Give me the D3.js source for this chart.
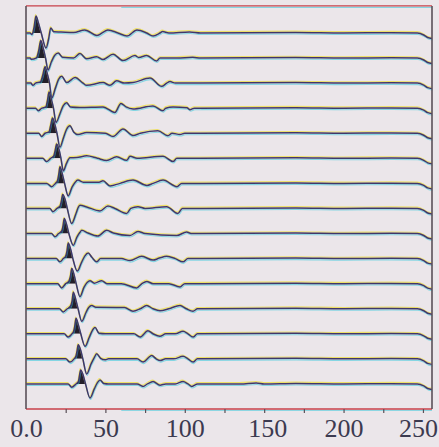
<!DOCTYPE html>
<html><head><meta charset="utf-8">
<script src="https://cdn.jsdelivr.net/npm/d3@7/dist/d3.min.js"></script>
<style>html,body{margin:0;padding:0;background:#ebe6ea;}svg{display:block;}</style>
</head><body>
<script>
// Tick labels of the x axis
const xTickValues = [0, 50, 100, 150, 200, 250];
const xTickLabels = ["0.0", "50", "100", "150", "200", "250"];
const xMinorTicks = [25, 50, 75, 100, 125, 150, 175, 200, 225, 250];

// Shared flat tail of every trace (time, amplitude in trace-spacing units)
const tail = [[170,0.02],[200,0],[230,0.01],[246.5,0],[250.5,-0.08],[253,-0.18],[255.7,-0.22]];

// Wiggle traces, top to bottom: [time, amplitude]
const trace1 = [[0,0],[2.5,0],[3.8,-0.06],[5,0.2],[6.3,0.68],[7.6,0.45],[9.6,0],[12.6,-0.6],[14.2,-0.25],[15.6,0.2],[17.5,0.05],[22,0.04],[30,0.02],[37,0.12],[44.7,-0.1],[51.6,0.12],[57.9,0],[63.6,-0.12],[69.9,0.12],[76,0],[80,-0.12],[84.4,0],[86,0.06],[90,0],[103,0.04],[110,0]];
const trace2 = [[0,0],[2.5,0],[3.5,-0.05],[6.5,0],[8,0.3],[9.3,0.7],[10.8,0.4],[12.3,0],[13.9,-0.48],[16,-0.15],[18,0.1],[20.3,0.2],[23,0.03],[30,0],[34,0.18],[38.2,-0.03],[44.5,0.05],[48.5,-0.06],[54.8,0.15],[61.1,-0.1],[68.6,0.1],[71,0.02],[76,0.1],[82.3,-0.12],[84.4,0],[95,0],[105,0.03],[110,0]];
const trace3 = [[0,0],[3,0],[4.4,-0.09],[6,0],[9,0.05],[10.5,0.3],[12,0.65],[13.5,0.35],[14.8,0],[16.2,-0.6],[18.5,-0.2],[20.5,0.15],[22.5,0.27],[25.6,0.02],[30.9,0.22],[35.9,0],[38.2,-0.09],[48.5,0.02],[52.9,-0.09],[57.1,0.09],[62,0],[67.4,0.02],[78.1,0.2],[85.5,-0.13],[88.6,0],[90.7,0.06],[94,0],[105,0],[110,0]];
const trace4 = [[0,0],[6,0],[7.7,-0.1],[10,0],[12.5,0.05],[13.5,0.3],[14.5,0.65],[16,0.35],[17.3,0],[18.9,-0.57],[21.5,-0.2],[23.5,0.1],[25.6,0.22],[28,0.05],[34,0.03],[48.5,0.05],[56,-0.17],[59.8,0.19],[63,0.05],[67.4,-0.03],[80,0.09],[86.3,-0.1],[88,0],[92.6,0.05],[101.4,0.02],[103.3,-0.06],[106,0],[110,0]];
const trace5 = [[0,0],[8,0],[9.9,-0.13],[12,0],[14.5,0.05],[15.5,0.3],[16.7,0.61],[18.2,0.35],[19.5,0],[21.4,-0.56],[23.5,-0.2],[25.5,0.15],[27.7,0.3],[30,0.05],[32.7,-0.05],[38.2,0.03],[50,0],[54.8,-0.13],[61.1,0.17],[67.4,-0.09],[72,0],[83.1,0.1],[89.4,-0.1],[92,0],[97,-0.05],[100,0],[110,0]];
const trace6 = [[0,0],[10.5,0],[13,-0.13],[15.5,0],[17.5,0.1],[18.5,0.35],[19.3,0.57],[20.8,0.35],[22,0],[23.5,-0.5],[25.5,-0.2],[27.7,0.02],[32,0.03],[38.2,0.1],[45,0],[50.8,-0.09],[57.1,0.06],[63.4,-0.08],[65.5,0.08],[70,0],[86.3,0.08],[92.6,-0.13],[95,0],[110,0]];
const trace7 = [[0,0],[13,0],[16.2,-0.13],[18.5,0],[19.8,0.1],[20.6,0.35],[21.4,0.66],[23,0.35],[24.3,0],[26.6,-0.5],[29,-0.15],[31,0.05],[32.7,0.13],[36,0.05],[46,0.05],[48.5,0.1],[52.9,-0.1],[59.2,0],[67.4,0.13],[76.2,-0.08],[80,0],[86.3,0.13],[95.1,-0.13],[98,0],[110,0]];
const trace8 = [[0,0],[15,0],[17,-0.13],[19.5,0],[21.5,0.1],[22.3,0.3],[23.1,0.56],[24.7,0.35],[26,0],[28.8,-0.6],[31.5,-0.2],[33,0.05],[34,0.13],[38.2,0.06],[46.6,-0.1],[51.6,0.1],[56,0],[63.4,-0.2],[66,0],[70.5,0.07],[75,0],[88.6,0.07],[95.7,-0.2],[98.5,0],[110,0]];
const trace9 = [[0,0],[16,0],[18.3,-0.13],[20.5,0],[22.5,0.1],[23.3,0.3],[24.1,0.6],[25.6,0.35],[27,0],[29.8,-0.47],[32,-0.15],[34,0.05],[35.1,0.13],[39,0.02],[45.3,-0.1],[50.8,0.13],[55,0.02],[65.5,-0.08],[70.5,0.08],[75,0],[94.9,-0.08],[101.2,0.06],[104,0],[110,0]];
const trace10 = [[0,0],[19,0],[21.4,-0.13],[23.5,0],[25,0.1],[25.8,0.3],[26.6,0.62],[28.2,0.35],[29.5,0],[32.3,-0.5],[35,-0.15],[37,0.1],[39.2,0.22],[41.5,0.05],[44.5,-0.13],[47,0],[60,0],[65.5,-0.08],[72.9,0.09],[80,-0.06],[84,0.02],[88.6,0.09],[94,0],[98.9,-0.13],[102,0],[110,0]];
const trace11 = [[0,0],[20,0],[22.5,-0.17],[25,0],[27,0.1],[28,0.3],[28.8,0.6],[30.3,0.35],[31.6,0],[34,-0.52],[36.5,-0.15],[38.5,0.05],[40.3,0.12],[43,0.02],[47.7,0.12],[51,0],[60,0],[69.7,-0.17],[73,0],[76,0.09],[80,0],[90,0],[97,-0.13],[100,0],[110,0]];
const trace12 = [[0,0],[21,0],[23.5,-0.13],[26,0],[28,0.1],[29,0.3],[29.8,0.66],[31.4,0.35],[32.8,0],[35.1,-0.5],[37.8,-0.15],[39.5,0.05],[41.4,0.13],[44,0.06],[62,0.05],[67.4,-0.1],[72,0],[76,0.13],[80,0],[84.4,-0.08],[90,0],[97,0.13],[101,0],[105.2,-0.1],[108,0],[110,0]];
const trace13 = [[0,0],[24,0],[26.6,-0.13],[29,0],[30,0.1],[30.7,0.3],[31.5,0.62],[33,0.35],[34.5,0],[37.2,-0.5],[39.8,-0.15],[41.5,0.1],[43.5,0.25],[46,0.02],[50,0],[68,0],[71.8,-0.13],[76.8,0.12],[80,0],[84.4,-0.1],[88,0],[94,0],[98.9,0.1],[102,0],[105.2,-0.13],[108,0],[110,0]];
const trace14 = [[0,0],[25,0],[27.7,-0.13],[30.3,0],[31.4,0.1],[32.1,0.3],[32.9,0.56],[34.4,0.35],[35.8,0],[38.2,-0.6],[41,-0.2],[43,0.05],[44.5,0.2],[47,0.02],[49.7,-0.04],[52,0],[70,0],[73.7,-0.13],[79.2,0.13],[82,0],[84.4,-0.07],[88,0],[93,0],[98.9,0.1],[102,0],[105.2,-0.13],[108,0],[110,0]];
const trace15 = [[0,0],[26.5,0],[28.8,-0.13],[31.5,0],[33,0.1],[33.6,0.3],[34.4,0.56],[36,0.35],[37.5,0],[40.3,-0.56],[43,-0.2],[45,0.05],[46.6,0.16],[49,0.02],[52,0],[70,0],[73.7,-0.1],[76.5,0],[80,0.1],[84.4,-0.05],[88,0],[94,0],[98.9,0.1],[102,0],[104.5,-0.1],[108,0],[135,0],[145,0.04],[150,0]];

const traces = [trace1,trace2,trace3,trace4,trace5,trace6,trace7,trace8,trace9,trace10,trace11,trace12,trace13,trace14,trace15];

const W = 439, H = 447;
const svg = d3.select("body").append("svg").attr("width", W).attr("height", H);
svg.append("rect").attr("width", W).attr("height", H).attr("fill", "#ebe6ea");

const x = d3.scaleLinear().domain([0, 255.7]).range([26, 432]);
const y = d3.scaleLinear().domain([0, 16]).range([7.9, 409]);

const defs = svg.append("defs");

traces.forEach((tr, k) => {
  const idx = k + 1;
  const pts = tr.concat(tail);
  const line = d3.line().x(d => x(d[0])).y(d => y(idx - d[1])).curve(d3.curveMonotoneX);
  const area = d3.area().x(d => x(d[0])).y0(y(idx)).y1(d => y(idx - d[1])).curve(d3.curveMonotoneX);
  // main positive lobe: between the zero knots around the largest amplitude
  const im = d3.maxIndex(tr, d => d[1]);
  let a = im, b = im;
  while (a > 0 && tr[a][1] > 0) a--;
  while (b < tr.length - 1 && tr[b][1] > 0) b++;
  const cid = "clip" + idx;
  defs.append("clipPath").attr("id", cid).append("rect")
    .attr("x", x(tr[a][0])).attr("y", y(idx - 1)).attr("width", x(tr[b][0]) - x(tr[a][0])).attr("height", y(idx) - y(idx - 1));
  const g = svg.append("g");
  g.append("path").attr("d", area(pts)).attr("fill", "#231e2a").attr("clip-path", `url(#${cid})`);
  g.append("path").attr("d", line(pts)).attr("fill", "none").attr("stroke", "#f0dc20")
    .attr("stroke-width", 1.1).attr("opacity", 0.65).attr("transform", "translate(-0.5,-1.3)");
  g.append("path").attr("d", line(pts)).attr("fill", "none").attr("stroke", "#30c8dc")
    .attr("stroke-width", 1.1).attr("opacity", 0.55).attr("transform", "translate(0.5,1.5)");
  g.append("path").attr("d", line(pts)).attr("fill", "none").attr("stroke", "#40366a")
    .attr("stroke-width", 1.5);
});

// frame
const fTop = y(-0.08), fBot = y(16);
svg.append("line").attr("x1", x(0)).attr("x2", x(255.7)).attr("y1", fTop).attr("y2", fTop)
  .attr("stroke", "#c8404a").attr("stroke-width", 1.3);
svg.append("line").attr("x1", x(60)).attr("x2", x(255.7)).attr("y1", fTop + 1.5).attr("y2", fTop + 1.5)
  .attr("stroke", "#30c8dc").attr("stroke-width", 1).attr("opacity", 0.6);
svg.append("line").attr("x1", x(0)).attr("x2", x(255.7)).attr("y1", fBot).attr("y2", fBot)
  .attr("stroke", "#c8404a").attr("stroke-width", 1.3);
svg.append("line").attr("x1", x(60)).attr("x2", x(255.7)).attr("y1", fBot + 1.5).attr("y2", fBot + 1.5)
  .attr("stroke", "#30c8dc").attr("stroke-width", 1).attr("opacity", 0.5);
svg.append("line").attr("x1", x(0)).attr("x2", x(0)).attr("y1", fTop).attr("y2", fBot)
  .attr("stroke", "#5a5058").attr("stroke-width", 1.6);
svg.append("line").attr("x1", x(255.7)).attr("x2", x(255.7)).attr("y1", fTop).attr("y2", fBot)
  .attr("stroke", "#5a5058").attr("stroke-width", 1.6);

// x axis ticks & labels
const ax = svg.append("g").attr("transform", `translate(0,${fBot})`);
ax.call(d3.axisBottom(x).tickValues(xMinorTicks).tickSize(4).tickFormat(""));
ax.select(".domain").remove();
ax.selectAll(".tick line").attr("stroke", "#5a5058").attr("stroke-width", 1.2);

const lab = svg.append("g").attr("transform", `translate(0,${fBot})`);
lab.call(d3.axisBottom(x).tickValues(xTickValues).tickSize(0).tickPadding(10)
  .tickFormat((d, i) => xTickLabels[i]));
lab.select(".domain").remove();
lab.selectAll(".tick text").attr("font-family", "Liberation Serif, serif").attr("font-size", 26)
  .attr("fill", "#3c3a50").attr("dy", "0.71em")
  .attr("dx", d => d === 250 ? -5 : (d === 150 ? 3 : 0));
</script>
</body></html>
